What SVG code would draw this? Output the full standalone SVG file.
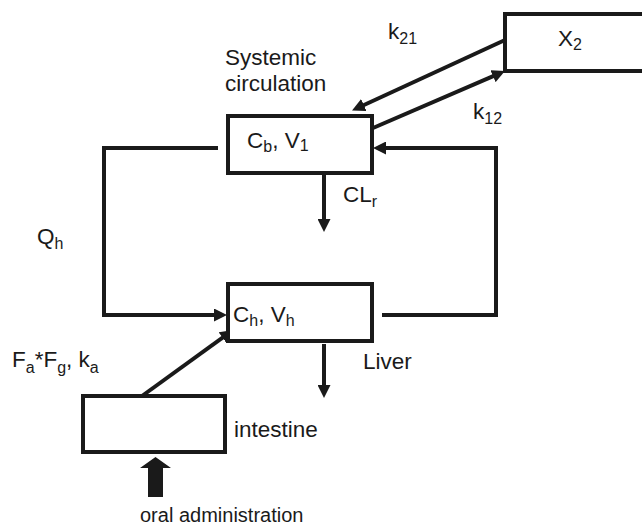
<svg xmlns="http://www.w3.org/2000/svg" width="642" height="525" viewBox="0 0 642 525">
  <defs>
    <style>
      .box { fill: #ffffff; stroke: #1a1a1a; stroke-width: 4; }
      .line { fill: none; stroke: #1a1a1a; stroke-width: 4; }
      .txt { font-family: "Liberation Sans", Arial, sans-serif; font-size: 22.5px; fill: #1a1a1a; }
      .sub { font-size: 16px; }
    </style>
    <marker id="arr" viewBox="0 0 13 13" refX="4" refY="6.5" markerWidth="13" markerHeight="13" markerUnits="userSpaceOnUse" orient="auto">
      <path d="M0,0 L13,6.5 L0,13 z" fill="#1a1a1a"/>
    </marker>
  </defs>
  <rect width="642" height="525" fill="#ffffff"/>

  <g id="connectors">
    <path class="line" d="M218,148 H104 V315 H218" marker-end="url(#arr)"/>
    <path class="line" d="M382,315 H496 V148 H382" marker-end="url(#arr)"/>
    <path class="line" d="M324,175 V223" marker-end="url(#arr)"/>
    <path class="line" d="M324,344 V389" marker-end="url(#arr)"/>
    <path class="line" d="M142,396 L225.7,335.3" marker-end="url(#arr)"/>
    <path class="line" d="M505,40 L360.2,106.7" marker-end="url(#arr)"/>
    <path class="line" d="M373,128 L496.7,74.6" marker-end="url(#arr)"/>
    <polygon points="148,497 148,468 140,468 155.5,457 171,468 163,468 163,497" fill="#1a1a1a"/>
  </g>

  <g id="x2">
    <rect class="box" x="505" y="14" width="150" height="57"/>
    <text class="txt" x="558" y="46">X<tspan class="sub" dy="4">2</tspan></text>
  </g>

  <g id="central">
    <rect class="box" x="228" y="116" width="144" height="57"/>
    <text class="txt" x="247" y="148">C<tspan class="sub" dy="4">b</tspan><tspan dy="-4">, V</tspan><tspan class="sub" dy="3">1</tspan></text>
  </g>

  <g id="liver">
    <rect class="box" x="228" y="284" width="144" height="57"/>
    <text class="txt" x="233" y="322">C<tspan class="sub" dy="4">h</tspan><tspan dy="-4">, V</tspan><tspan class="sub" dy="4">h</tspan></text>
  </g>

  <g id="intestine">
    <rect class="box" x="83" y="396" width="142" height="56"/>
  </g>

  <g id="labels">
    <text class="txt" x="225" y="65">Systemic</text>
    <text class="txt" x="225" y="91">circulation</text>
    <text class="txt" x="388" y="39">k<tspan class="sub" dy="5">21</tspan></text>
    <text class="txt" x="473" y="119">k<tspan class="sub" dy="5">12</tspan></text>
    <text class="txt" x="343" y="202">CL<tspan class="sub" dy="5">r</tspan></text>
    <text class="txt" x="37" y="244">Q<tspan class="sub" dy="5">h</tspan></text>
    <text class="txt" x="12" y="367">F<tspan class="sub" dy="6">a</tspan><tspan dy="-6">*F</tspan><tspan class="sub" dy="6">g</tspan><tspan dy="-6">, k</tspan><tspan class="sub" dy="6">a</tspan></text>
    <text class="txt" x="363" y="369">Liver</text>
    <text class="txt" x="234" y="437">intestine</text>
    <text class="txt" x="140" y="522" style="font-size:20px">oral administration</text>
  </g>
</svg>
